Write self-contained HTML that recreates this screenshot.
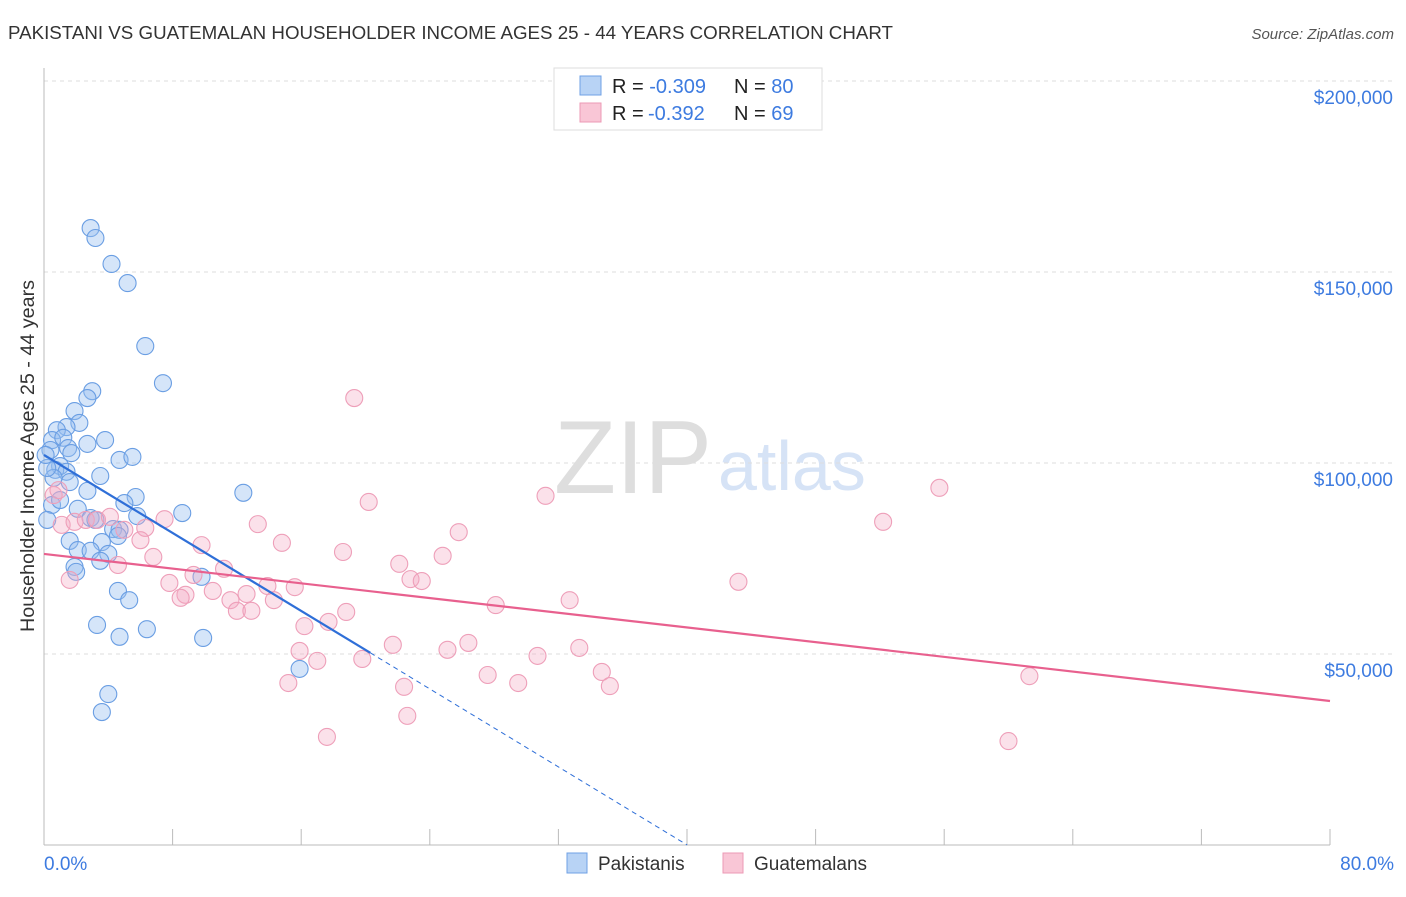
<!DOCTYPE html>
<html><head><meta charset="utf-8"><style>
body{margin:0;background:#fff;font-family:"Liberation Sans",sans-serif}
svg text{font-family:"Liberation Sans",sans-serif}
</style></head><body>
<svg id="c" width="1406" height="892" xmlns="http://www.w3.org/2000/svg">
<text x="8" y="39" font-size="18" fill="#333" textLength="885" lengthAdjust="spacingAndGlyphs">PAKISTANI VS GUATEMALAN HOUSEHOLDER INCOME AGES 25 - 44 YEARS CORRELATION CHART</text>
<text x="1394" y="39" font-size="15" fill="#555" font-style="italic" text-anchor="end">Source: ZipAtlas.com</text>
<text x="34" y="456" font-size="19" fill="#333" text-anchor="middle" textLength="352" lengthAdjust="spacingAndGlyphs" transform="rotate(-90 34 456)">Householder Income Ages 25 - 44 years</text>
<text x="554" y="493" font-size="104" fill="#dedede" font-family="Liberation Serif" textLength="158" lengthAdjust="spacingAndGlyphs">ZIP</text>
<text x="718" y="490" font-size="70" fill="#d6e3f6">atlas</text>
<g id="grid"></g><g id="pts"></g><g id="lines"></g>
<g>
<rect x="554" y="68" width="268" height="62" fill="#fff" stroke="#ddd"/>
<rect x="580" y="76" width="21" height="19" fill="#b8d3f5" stroke="#6fa0e5"/>
<rect x="580" y="103" width="21" height="19" fill="#f9c6d6" stroke="#ec9ab5"/>
<text x="612" y="93" font-size="20" fill="#222">R = <tspan fill="#3d7be0">-0.309</tspan><tspan x="734">N = </tspan><tspan fill="#3d7be0">80</tspan></text>
<text x="612" y="120" font-size="20" fill="#222">R = <tspan fill="#3d7be0" x="648">-0.392</tspan><tspan x="734">N = </tspan><tspan fill="#3d7be0">69</tspan></text>
</g>
<text x="44" y="870" font-size="19" fill="#3d7be0">0.0%</text>
<text x="1394" y="870" font-size="19" fill="#3d7be0" text-anchor="end">80.0%</text>
<rect x="567" y="853" width="20" height="20" fill="#b8d3f5" stroke="#6fa0e5"/>
<text x="598" y="870" font-size="19" fill="#333">Pakistanis</text>
<rect x="723" y="853" width="20" height="20" fill="#f9c6d6" stroke="#ec9ab5"/>
<text x="754" y="870" font-size="19" fill="#333">Guatemalans</text>
</svg>
<script>
const yTicks=[50,100,150,200];
const yTickLabels=["$50,000","$100,000","$150,000","$200,000"];
const xTicks=[0,8,16,24,32,40,48,56,64,72,80];
const pakX=[2.9,3.2,4.2,5.2,6.3,7.4,3.0,2.7,1.9,2.2,1.4,0.8,0.5,1.2,1.5,2.7,3.8,0.4,1.7,1.0,4.7,5.5,0.7,1.4,1.6,3.5,2.7,5.7,12.4,0.5,2.1,2.9,3.2,8.6,5.0,5.8,0.2,4.3,4.7,1.6,3.6,4.6,2.1,2.9,4.0,3.5,1.9,2.0,4.6,5.3,9.8,3.3,4.7,6.4,9.9,15.9,4.0,3.6,0.6,0.2,0.1,1.0];
const pakY=[161.5,158.9,152.1,147.1,130.6,120.9,118.8,117.0,113.6,110.5,109.4,108.6,106.0,106.6,103.9,105.0,106.0,103.4,102.6,99.2,100.8,101.6,98.2,97.7,95.0,96.6,92.7,91.1,92.2,89.0,88.0,85.6,85.1,86.9,89.5,86.1,85.1,82.7,82.5,79.6,79.3,80.9,77.2,77.0,76.2,74.4,72.8,71.5,66.5,64.1,70.2,57.6,54.5,56.5,54.2,46.1,39.5,34.8,96.1,98.7,102.1,90.3];
const guaX=[19.3,31.2,20.2,55.7,52.2,25.8,0.6,0.9,1.1,1.9,2.6,3.3,4.1,7.5,13.3,6.3,6.0,5.0,9.8,14.8,18.6,24.8,22.1,6.8,4.6,9.3,11.2,22.8,23.5,43.2,13.9,15.6,7.8,8.8,8.5,10.5,11.6,12.6,12.0,12.9,14.3,18.8,28.1,32.7,17.7,16.2,15.9,17.0,21.7,19.8,26.4,25.1,33.3,30.7,27.6,29.5,34.7,35.2,15.2,22.4,22.6,17.6,60.0,61.3,1.6];
const guaY=[117.0,91.4,89.8,93.5,84.6,81.9,91.6,92.9,83.8,84.6,85.1,85.1,85.9,85.3,84.0,83.0,79.8,82.5,78.5,79.1,76.7,75.7,73.6,75.4,73.3,70.7,72.3,69.6,69.1,68.9,67.8,67.5,68.6,65.5,64.7,66.5,64.1,65.7,61.3,61.3,64.1,61.0,62.8,64.1,58.4,57.3,50.8,48.2,52.4,48.7,52.9,51.1,51.6,49.5,44.5,42.4,45.3,41.6,42.4,41.4,33.8,28.3,27.2,44.2,69.4];
const pakTrend=[102.1,50.3];const pakTrendEndX=20.3;
const guaTrend=[76.2,37.7];
const NS="http://www.w3.org/2000/svg";
const X=v=>44+v/80*1286, Y=v=>845-v/50*191;
function mk(t,a,p){const e=document.createElementNS(NS,t);for(const k in a)e.setAttribute(k,a[k]);p.appendChild(e);return e;}
const grid=document.getElementById('grid');
yTicks.forEach((t,i)=>{
 const l=mk('line',{x1:44,x2:1394,y1:Y(t),y2:Y(t),stroke:'#ddd','stroke-dasharray':'4,4'},grid);
 
 
 const tx=mk('text',{x:1393,y:Y(t)+23,'font-size':19,fill:'#3d7be0','text-anchor':'end'},grid);
 tx.textContent=yTickLabels[i];
 
 
});
mk('line',{x1:44,x2:44,y1:68,y2:845,stroke:'#bbb'},grid);
mk('line',{x1:44,x2:1330,y1:845,y2:845,stroke:'#bbb'},grid);
xTicks.forEach(t=>{const l=mk('line',{x1:X(t),x2:X(t),y1:829,y2:845,stroke:'#bbb'},grid);
 
 });
const pts=document.getElementById('pts');
pakX.forEach((x,i)=>{const c=mk('circle',{cx:X(x),cy:Y(pakY[i]),r:8.5,fill:'rgba(150,190,240,0.4)',stroke:'#6a9ee3','stroke-width':1.1},pts);
 
 });
guaX.forEach((x,i)=>{const c=mk('circle',{cx:X(x),cy:Y(guaY[i]),r:8.5,fill:'rgba(244,170,195,0.35)',stroke:'#ee9fb9','stroke-width':1.1},pts);
 
 });
const lines=document.getElementById('lines');
const slope=(pakTrend[1]-pakTrend[0])/pakTrendEndX, zeroX=-pakTrend[0]/slope;
let l1=mk('line',{x1:X(0),y1:Y(pakTrend[0]),x2:X(pakTrendEndX),y2:Y(pakTrend[1]),stroke:'#2f6fd8','stroke-width':2.2},lines);


let l2=mk('line',{x1:X(pakTrendEndX),y1:Y(pakTrend[1]),x2:X(zeroX),y2:Y(0),stroke:'#2f6fd8','stroke-width':1,'stroke-dasharray':'5,4'},lines);


let l3=mk('line',{x1:X(0),y1:Y(guaTrend[0]),x2:X(80),y2:Y(guaTrend[1]),stroke:'#e8608e','stroke-width':2.2},lines);


</script>
</body></html>
